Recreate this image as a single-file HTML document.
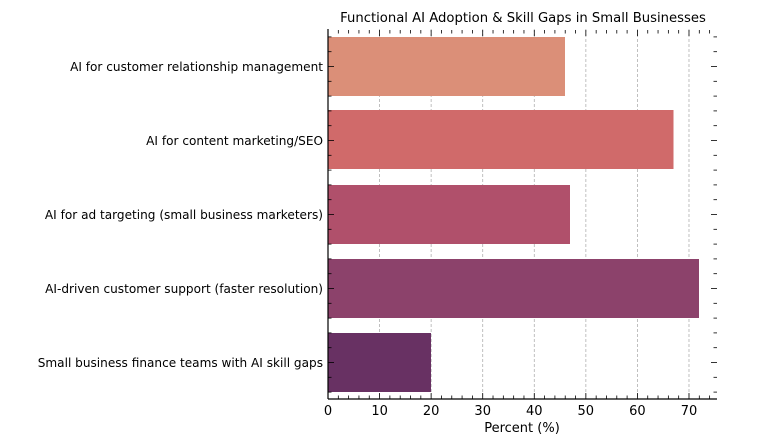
<!DOCTYPE html>
<html><head><meta charset="utf-8"><style>
body{margin:0;background:#fff}
svg{display:block;font-family:"DejaVu Sans","Liberation Sans",sans-serif}
</style></head><body>
<svg id="s" width="769" height="448" viewBox="0 0 769 448">
<g id="grid" stroke="#b0b0b0" stroke-width="0.8" stroke-dasharray="3,2"></g>
<rect x="328" y="37" width="237" height="59" fill="#db8f78"/>
<rect x="328" y="110" width="345.5" height="59" fill="#d06a6a"/>
<rect x="328" y="185" width="242" height="59" fill="#b0506b"/>
<rect x="328" y="259" width="371" height="59" fill="#8c426b"/>
<rect x="328" y="333" width="103" height="59" fill="#683163"/>
<g id="ticks" stroke="#000" stroke-width="0.8"></g>
<line x1="328" y1="29" x2="328" y2="399" stroke="#000" stroke-width="1.2"/>
<line x1="328" y1="399" x2="717" y2="399" stroke="#000" stroke-width="1.2"/>
<g font-size="12.1" text-anchor="end" fill="#000">
<text x="323" y="71">AI for customer relationship management</text>
<text x="323" y="145">AI for content marketing/SEO</text>
<text x="323" y="219">AI for ad targeting (small business marketers)</text>
<text x="323" y="293">AI-driven customer support (faster resolution)</text>
<text x="323" y="367">Small business finance teams with AI skill gaps</text>
</g>
<g font-size="13" text-anchor="middle" fill="#000">
<text x="328" y="415">0</text><text x="379.6" y="415">10</text><text x="431.1" y="415">20</text>
<text x="482.7" y="415">30</text><text x="534.3" y="415">40</text><text x="585.8" y="415">50</text>
<text x="637.4" y="415">60</text><text x="689" y="415">70</text>
<text x="522" y="432" font-size="13">Percent (%)</text>
<text x="523" y="22" font-size="13.2">Functional AI Adoption &amp; Skill Gaps in Small Businesses</text>
</g>
</svg>
<script>
const ns="http://www.w3.org/2000/svg";
function L(g,x1,y1,x2,y2){const l=document.createElementNS(ns,"line");l.setAttribute("x1",x1);l.setAttribute("y1",y1);l.setAttribute("x2",x2);l.setAttribute("y2",y2);document.getElementById(g).appendChild(l);}
const sx=v=>328+v*5.157;
for(let v=10;v<=70;v+=10)L("grid",sx(v),29,sx(v),399);
for(let v=0;v<=75;v+=2){const x=sx(v),maj=v%10==0,len=maj?6:3.5;
 L("ticks",x,399,x,399-len);L("ticks",x,30,x,30+len);}
for(let i=0;i<5;i++){for(let k=-2;k<=2;k++){const y=66.5+i*74+k*14.8,maj=k==0,len=maj?6:3.5;
 L("ticks",717-len,y,717,y);L("ticks",328,y,328+len,y);}}
</script>
</body></html>
